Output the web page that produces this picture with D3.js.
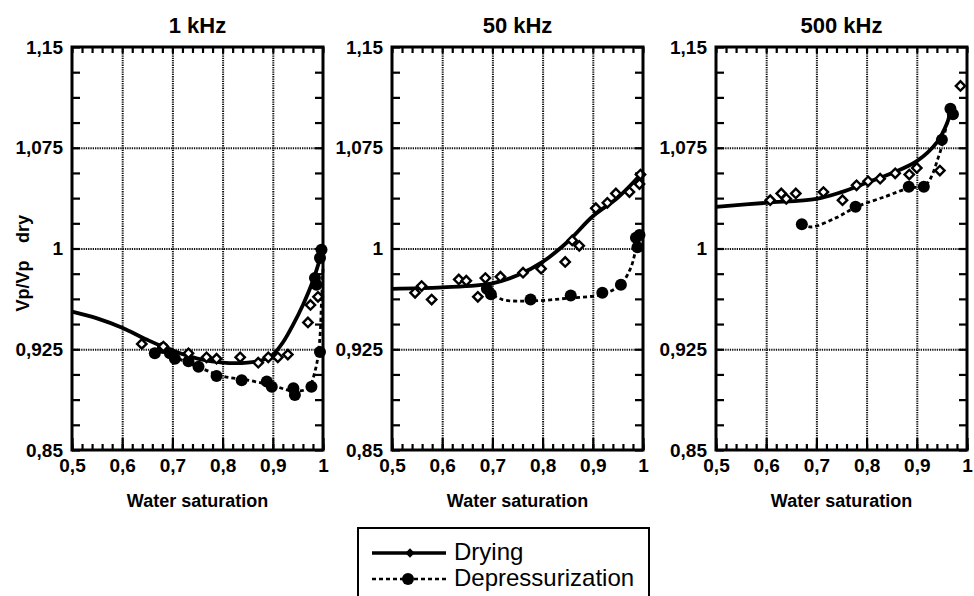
<!DOCTYPE html>
<html>
<head>
<meta charset="utf-8">
<script src="https://cdn.jsdelivr.net/npm/d3@7"></script>
<style>
  body { margin: 0; background: #fff; }
  text { font-family: "Liberation Sans", Arial, Helvetica, sans-serif; fill: #000; }
  .grid line { stroke: #111; stroke-width: 2; stroke-dasharray: 1.3, 1; }
  .grid path, .ticks path, .labels path { display: none; }
  .ticks line { stroke: #000; stroke-width: 2.2; }
</style>
</head>
<body>
<svg id="chart" width="974" height="596"></svg>
<script>
// ---- data: [water saturation, Vp/Vp dry] ----

// 1 kHz
var dry1k = [[0.639, 0.929], [0.682, 0.927], [0.732, 0.922], [0.768, 0.919], [0.788, 0.918],
  [0.835, 0.919], [0.871, 0.915], [0.891, 0.919], [0.910, 0.919], [0.930, 0.921],
  [0.970, 0.945], [0.975, 0.958], [0.990, 0.964]];
var dep1k = [[0.665, 0.922], [0.681, 0.926], [0.695, 0.922], [0.705, 0.918], [0.732, 0.916],
  [0.752, 0.912], [0.788, 0.905], [0.838, 0.902], [0.888, 0.901], [0.898, 0.897],
  [0.941, 0.896], [0.944, 0.891], [0.977, 0.897], [0.994, 0.923], [0.984, 0.978],
  [0.987, 0.973], [0.994, 0.993], [0.997, 0.999]];
var dryFit1k = [[0.5, 0.953], [0.55, 0.948], [0.6, 0.941], [0.65, 0.932], [0.7, 0.924],
  [0.75, 0.918], [0.8, 0.915], [0.85, 0.915], [0.88, 0.917], [0.9, 0.921], [0.92, 0.93],
  [0.94, 0.943], [0.96, 0.958], [0.98, 0.976], [1.0, 1.0]];
var depFit1k = [[0.70, 0.920], [0.75, 0.912], [0.80, 0.905], [0.85, 0.902], [0.90, 0.898],
  [0.94, 0.894], [0.97, 0.896], [0.985, 0.91], [0.993, 0.93], [0.997, 0.96], [1.0, 0.985]];

// 50 kHz
var dry50k = [[0.546, 0.967], [0.559, 0.972], [0.579, 0.962], [0.633, 0.977], [0.648, 0.976],
  [0.671, 0.964], [0.686, 0.978], [0.716, 0.979], [0.761, 0.982], [0.797, 0.985],
  [0.845, 0.990], [0.859, 1.006], [0.873, 1.002], [0.906, 1.030], [0.929, 1.034],
  [0.946, 1.041], [0.973, 1.042], [0.993, 1.048], [0.995, 1.055]];
var dep50k = [[0.689, 0.970], [0.697, 0.966], [0.776, 0.962], [0.856, 0.965], [0.919, 0.967],
  [0.956, 0.973], [0.986, 1.008], [0.989, 1.001], [0.993, 1.010]];
var dryFit50k = [[0.5, 0.970], [0.6, 0.971], [0.7, 0.974], [0.75, 0.980], [0.8, 0.990],
  [0.85, 1.005], [0.9, 1.024], [0.95, 1.038], [1.0, 1.057]];
var depFit50k = [[0.69, 0.968], [0.72, 0.962], [0.78, 0.961], [0.85, 0.963], [0.92, 0.966],
  [0.955, 0.973], [0.975, 0.985], [0.985, 0.998], [0.993, 1.010]];

// 500 kHz
var dry500k = [[0.608, 1.036], [0.630, 1.041], [0.640, 1.037], [0.659, 1.041], [0.714, 1.042],
  [0.752, 1.036], [0.780, 1.047], [0.803, 1.050], [0.827, 1.052], [0.857, 1.056],
  [0.885, 1.055], [0.900, 1.060], [0.946, 1.058], [0.987, 1.121]];
var dep500k = [[0.671, 1.018], [0.778, 1.031], [0.884, 1.046], [0.914, 1.046], [0.950, 1.081],
  [0.967, 1.104], [0.972, 1.100]];
var dryFit500k = [[0.5, 1.031], [0.6, 1.034], [0.7, 1.037], [0.75, 1.042], [0.8, 1.049],
  [0.85, 1.056], [0.9, 1.065], [0.94, 1.079], [0.96, 1.093], [0.97, 1.106]];
var depFit500k = [[0.671, 1.018], [0.69, 1.016], [0.74, 1.023], [0.78, 1.031], [0.84, 1.039],
  [0.884, 1.045], [0.917, 1.047], [0.944, 1.069], [0.957, 1.088], [0.967, 1.104]];

var titles = ["1 kHz", "50 kHz", "500 kHz"];
var yTickValues = [0.85, 0.925, 1, 1.075, 1.15];
var xTickValues = [0.5, 0.6, 0.7, 0.8, 0.9, 1];
var legendLabels = ["Drying", "Depressurization"];

// ---- layout ----
var svg = d3.select("#chart");
var plotTop = 47, plotBottom = 450;
var panelLeft = [72, 392, 716];
var panelWidth = 251;

var panels = [
  { title: titles[0], dry: dry1k, dep: dep1k, dryFit: dryFit1k, depFit: depFit1k },
  { title: titles[1], dry: dry50k, dep: dep50k, dryFit: dryFit50k, depFit: depFit50k },
  { title: titles[2], dry: dry500k, dep: dep500k, dryFit: dryFit500k, depFit: depFit500k }
];

var fmt = function(d) { return String(d).replace(".", ","); };
var yMinor = d3.range(0, 17).map(function(i) { return 0.85 + i * 0.01875; });
var xMinor = d3.range(0, 26).map(function(i) { return 0.5 + i * 0.02; });

var diamond = d3.symbol().type(d3.symbolSquare).size(44);

panels.forEach(function(p, i) {
  var w = panelWidth;
  var h = plotBottom - plotTop;
  var xScale = d3.scaleLinear().domain([0.5, 1]).range([0, w]);
  var y = d3.scaleLinear().domain([0.85, 1.15]).range([h, 0]);
  var g = svg.append("g").attr("transform", `translate(${panelLeft[i]}, ${plotTop})`);

  // dotted grid
  g.append("g").attr("class", "grid")
    .attr("transform", `translate(0, ${h})`)
    .call(d3.axisBottom(xScale).tickValues([0.6, 0.7, 0.8, 0.9]).tickSize(-h).tickFormat(""));
  g.append("g").attr("class", "grid")
    .call(d3.axisLeft(y).tickValues([0.925, 1, 1.075]).tickSize(-w).tickFormat(""));

  // inward ticks on all four sides
  g.append("g").attr("class", "ticks")
    .attr("transform", `translate(0, ${h})`)
    .call(d3.axisBottom(xScale).tickValues(xMinor).tickSize(-6).tickFormat(""));
  g.append("g").attr("class", "ticks")
    .attr("transform", `translate(0, ${h})`)
    .call(d3.axisBottom(xScale).tickValues(xTickValues).tickSize(-12).tickFormat(""));
  g.append("g").attr("class", "ticks")
    .call(d3.axisTop(xScale).tickValues(xMinor).tickSize(-6).tickFormat(""));
  g.append("g").attr("class", "ticks")
    .call(d3.axisLeft(y).tickValues(yMinor).tickSize(-8).tickFormat(""));
  g.append("g").attr("class", "ticks")
    .attr("transform", `translate(${w}, 0)`)
    .call(d3.axisRight(y).tickValues(yMinor).tickSize(-8).tickFormat(""));

  // tick labels
  var yl = g.append("g").attr("class", "labels")
    .call(d3.axisLeft(y).tickValues(yTickValues).tickSize(0).tickPadding(9).tickFormat(fmt));
  yl.selectAll("text").style("font-size", "19px").style("font-weight", "bold");
  var xl = g.append("g").attr("class", "labels")
    .attr("transform", `translate(0, ${h})`)
    .call(d3.axisBottom(xScale).tickValues(xTickValues).tickSize(0).tickPadding(9).tickFormat(fmt));
  xl.selectAll("text").style("font-size", "19px").style("font-weight", "bold");

  // fitted curves
  var line = d3.line()
    .x(function(d) { return xScale(d[0]); })
    .y(function(d) { return y(d[1]); })
    .curve(d3.curveCatmullRom);

  g.append("path").datum(p.depFit)
    .attr("d", line).attr("fill", "none")
    .attr("stroke", "#000").attr("stroke-width", 2.8)
    .attr("stroke-dasharray", "4,3");
  g.append("path").datum(p.dryFit)
    .attr("d", line).attr("fill", "none")
    .attr("stroke", "#000").attr("stroke-width", 3.8);

  // markers
  g.selectAll(".dep").data(p.dep).enter().append("circle")
    .attr("class", "dep")
    .attr("cx", function(d) { return xScale(d[0]); })
    .attr("cy", function(d) { return y(d[1]); })
    .attr("r", 6).attr("fill", "#000");
  g.selectAll(".dry").data(p.dry).enter().append("path")
    .attr("class", "dry")
    .attr("d", diamond)
    .attr("transform", function(d) { return `translate(${xScale(d[0])}, ${y(d[1])}) rotate(45)`; })
    .attr("fill", "#fff").attr("stroke", "#000").attr("stroke-width", 2.4);

  // frame
  g.append("rect").attr("width", w).attr("height", h)
    .attr("fill", "none").attr("stroke", "#000").attr("stroke-width", 3);

  // title and x label
  g.append("text").attr("x", w / 2).attr("y", -14)
    .attr("text-anchor", "middle")
    .style("font-size", "22px").style("font-weight", "bold")
    .text(p.title);
  g.append("text").attr("x", w / 2).attr("y", h + 57)
    .attr("text-anchor", "middle")
    .style("font-size", "18px").style("font-weight", "bold")
    .text("Water saturation");
});

// y axis label
svg.append("text")
  .attr("transform", "translate(29, 286) rotate(-90)")
  .attr("text-anchor", "middle")
  .style("font-size", "18px").style("font-weight", "bold")
  .text("Vp/Vp");
svg.append("text")
  .attr("transform", "translate(29, 229) rotate(-90)")
  .attr("text-anchor", "middle")
  .style("font-size", "18px").style("font-weight", "bold")
  .text("dry");

// legend
var legend = svg.append("g");
legend.append("rect")
  .attr("x", 358).attr("y", 528).attr("width", 291).attr("height", 80)
  .attr("fill", "#fff").attr("stroke", "#000").attr("stroke-width", 2);

var legendY = [553, 579];
legend.append("line")
  .attr("x1", 372).attr("x2", 446).attr("y1", legendY[0]).attr("y2", legendY[0])
  .attr("stroke", "#000").attr("stroke-width", 3.4);
legend.append("path")
  .attr("d", d3.symbol().type(d3.symbolSquare).size(26))
  .attr("transform", `translate(410, ${legendY[0]}) rotate(45)`)
  .attr("fill", "#000").attr("stroke", "#000").attr("stroke-width", 1.5);
legend.append("line")
  .attr("x1", 372).attr("x2", 446).attr("y1", legendY[1]).attr("y2", legendY[1])
  .attr("stroke", "#000").attr("stroke-width", 2.6).attr("stroke-dasharray", "4,3");
legend.append("circle")
  .attr("cx", 408).attr("cy", legendY[1]).attr("r", 6).attr("fill", "#000");

legend.selectAll(".leg-label").data(legendLabels).enter().append("text")
  .attr("class", "leg-label")
  .attr("x", 454)
  .attr("y", function(d, i) { return legendY[i] + 7; })
  .style("font-size", "24px")
  .text(function(d) { return d; });
</script>
</body>
</html>
